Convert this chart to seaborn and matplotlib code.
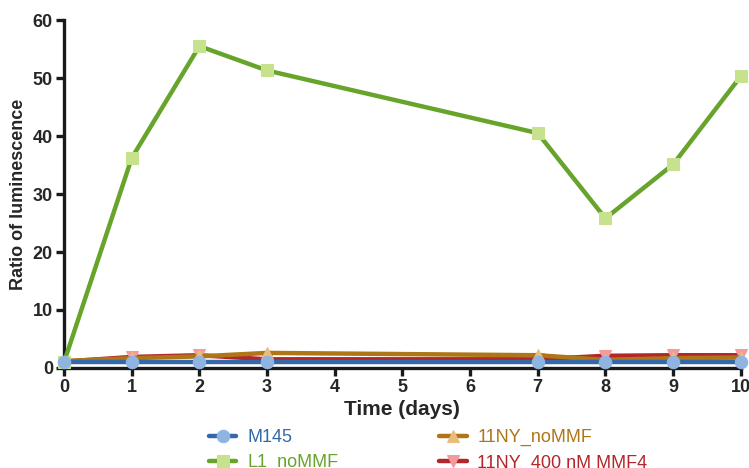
import pandas as pd
import seaborn as sns
import matplotlib.pyplot as plt

days = [0, 1, 2, 3, 7, 8, 9, 10]
m145 = [1.0, 1.0, 1.0, 1.0, 1.0, 1.0, 1.0, 1.0]
l1_nommf = [1.0, 36.2, 55.5, 51.3, 40.5, 25.8, 35.1, 50.3]
ny_nommf = [1.2, 1.7, 2.0, 2.6, 2.2, 1.4, 1.7, 1.8]
ny_mmf4 = [1.1, 1.9, 2.2, 1.5, 1.5, 2.1, 2.2, 2.2]

labels = ["M145", "L1_noMMF", "11NY_noMMF", "11NY_400 nM MMF4"]
series = [m145, l1_nommf, ny_nommf, ny_mmf4]
line_colors = ["#3568a8", "#67a42c", "#ae7616", "#b3262a"]
face_colors = ["#90b4e2", "#c6e28c", "#ebbd7c", "#f29a9c"]
markers = ["o", "s", "^", "v"]

sns.set_style("ticks")
plt.rcParams['font.family'] = ['Liberation Sans Narrow', 'Liberation Sans', 'DejaVu Sans']

fig = plt.figure(figsize=(7.49, 4.68), dpi=100)
ax = fig.add_axes([0.0855, 0.2137, 0.9035, 0.7435])

# draw in reverse so M145 sits on top
for i in reversed(range(4)):
    df = pd.DataFrame({"day": days, "val": series[i]})
    sns.lineplot(data=df, x="day", y="val", ax=ax, color=line_colors[i],
                 linewidth=3.2, marker=markers[i], markersize=9,
                 markerfacecolor=face_colors[i], markeredgecolor=face_colors[i],
                 clip_on=False, zorder=3 + (3 - i), label=labels[i])

ax.set_xlim(0, 10)
ax.set_ylim(0, 60)
ax.set_xticks(range(0, 11))
ax.set_yticks(range(0, 61, 10))
for s in ["top", "right"]:
    ax.spines[s].set_visible(False)
for s in ["left", "bottom"]:
    ax.spines[s].set_linewidth(2.4)
    ax.spines[s].set_color("#1a1a1a")
ax.tick_params(width=2.4, length=6, color="#1a1a1a", labelsize=13, pad=2)
for t in ax.get_xticklabels() + ax.get_yticklabels():
    t.set_fontweight("bold")
ax.set_xlabel("Time (days)", fontsize=15, fontweight="bold", labelpad=3)
ax.set_ylabel("Ratio of luminescence", fontsize=13, fontweight="bold",
              family=['Liberation Sans', 'DejaVu Sans'], labelpad=4)

ax.get_legend().remove()
h, l = ax.get_legend_handles_labels()
order = [l.index(x) for x in labels]
leg = fig.legend([h[k] for k in order], [l[k] for k in order], ncol=2,
                 loc="upper center", bbox_to_anchor=(0.572, 0.118), frameon=False,
                 fontsize=13, columnspacing=5.6, handlelength=1.5, handletextpad=0.6,
                 labelspacing=0.45)
for txt, c in zip(leg.get_texts(), line_colors):
    txt.set_color(c)

fig.savefig("out.png", dpi=100)
